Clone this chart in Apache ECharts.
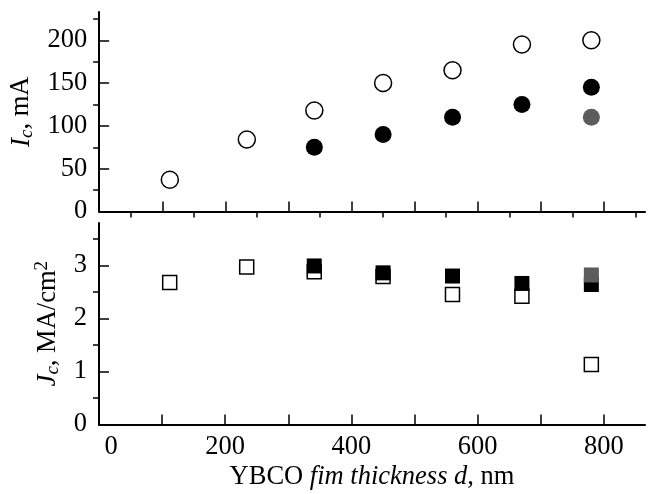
<!DOCTYPE html>
<html>
<head>
<meta charset="utf-8">
<script src="https://cdn.jsdelivr.net/npm/echarts@6/dist/echarts.min.js"></script>
<style>
  html, body { margin: 0; padding: 0; background: #fff; }
  #chart { width: 650px; height: 494px; }
</style>
</head>
<body>
<div id="chart"></div>
<script>
// film thickness, nm
const thickness = [112, 234, 341, 450, 560, 670, 780]

// critical current Ic, mA
const icOpen = [37, 84, 118, 150, 165, 195, 200]
const icFilled = [null, null, 75, 90, 110, 125, 145]
const icGray = [null, null, null, null, null, null, 110]

// critical current density Jc, MA/cm2
const jcOpen = [2.68, 2.97, 2.88, 2.79, 2.45, 2.42, 1.13]
const jcFilled = [null, null, 2.99, 2.86, 2.80, 2.66, 2.64]
const jcGray = [null, null, null, null, null, null, 2.82]

// ticks
const xMajor = [100, 200, 300, 400, 500, 600, 700, 800]
const xMinor = [50, 150, 250, 350, 450, 550, 650, 750, 850]
const xLabels = [0, 200, 400, 600, 800]
const icMajor = [0, 50, 100, 150, 200]
const icMinor = [25, 75, 125, 175, 225]
const jcMajor = [0, 1, 2, 3]
const jcMinor = [0.5, 1.5, 2.5, 3.5]

const font = '"Liberation Serif", "DejaVu Serif", serif'
const gray = '#5c5c5c'
const fs = 26.5

function pairs(ys) {
  const out = []
  ys.forEach((y, i) => {
    if (y !== null) out.push([thickness[i], y])
  })
  return out
}

function xAxisBase(grid, extra) {
  return Object.assign({
    type: 'value',
    gridIndex: grid,
    min: 0,
    max: 865,
    splitLine: { show: false },
    axisLine: { show: true, onZero: false, lineStyle: { color: '#000', width: 2 } }
  }, extra)
}

function yAxisBase(grid, max, extra) {
  return Object.assign({
    type: 'value',
    gridIndex: grid,
    min: 0,
    max: max,
    splitLine: { show: false },
    axisLine: { show: true, onZero: false, lineStyle: { color: '#000', width: 2 } }
  }, extra)
}

const tickMajor = { show: true, inside: true, length: 10, lineStyle: { color: '#000', width: 1.5 } }
const tickMinor = { show: true, inside: true, length: 6, lineStyle: { color: '#000', width: 1.5 } }

const nameRich = {
  it: { fontSize: 27, fontFamily: font, fontStyle: 'italic', color: '#000', lineHeight: 30 },
  sub: { fontSize: 19, fontFamily: font, fontStyle: 'italic', color: '#000', verticalAlign: 'bottom', lineHeight: 18 },
  rm: { fontSize: fs, fontFamily: font, color: '#000', lineHeight: 30 },
  sup: { fontSize: 19, fontFamily: font, color: '#000', verticalAlign: 'top', lineHeight: 18 }
}

let myChart = echarts.init(document.getElementById('chart'))
myChart.setOption({
  backgroundColor: '#fff',
  animation: false,
  textStyle: { fontFamily: font },
  grid: [
    { left: 99, top: 12, right: 5, height: 199.5 },
    { left: 99, top: 223, right: 5, height: 201.5 }
  ],
  xAxis: [
    // top panel, major
    xAxisBase(0, {
      axisTick: Object.assign({ customValues: xMajor }, tickMajor),
      axisLabel: { show: false }
    }),
    // top panel, minor
    xAxisBase(0, {
      axisLine: { show: false },
      axisTick: Object.assign({ customValues: xMinor }, tickMinor),
      axisLabel: { show: false }
    }),
    // bottom panel
    xAxisBase(1, {
      axisTick: Object.assign({ customValues: xMajor }, tickMajor),
      axisLabel: {
        customValues: xLabels,
        color: '#000',
        fontSize: fs,
        fontFamily: font,
        margin: 9,
        formatter: function (v) {
          return v === 0 ? '{z|0}' : String(v)
        },
        rich: {
          z: { fontSize: fs, fontFamily: font, color: '#000', padding: [0, 0, 0, 24] }
        }
      },
      name: 'YBCO {it|fim thickness d}, nm',
      nameLocation: 'middle',
      nameGap: 39,
      nameTextStyle: {
        color: '#000',
        fontSize: fs,
        fontFamily: font,
        rich: {
          it: { fontSize: fs, fontFamily: font, fontStyle: 'italic', color: '#000' }
        }
      }
    })
  ],
  yAxis: [
    // top panel, major
    yAxisBase(0, 233, {
      axisTick: Object.assign({ customValues: icMajor }, tickMajor),
      axisLabel: {
        customValues: icMajor,
        color: '#000',
        fontSize: fs,
        fontFamily: font,
        margin: 12
      },
      name: '{it|I}{sub|c}{rm|, mA}',
      nameLocation: 'middle',
      nameGap: 60,
      nameTextStyle: { color: '#000', fontSize: fs, fontFamily: font, rich: nameRich }
    }),
    // top panel, minor
    yAxisBase(0, 233, {
      axisLine: { show: false },
      axisTick: Object.assign({ customValues: icMinor }, tickMinor),
      axisLabel: { show: false }
    }),
    // bottom panel, major
    yAxisBase(1, 3.8, {
      axisTick: Object.assign({ customValues: jcMajor }, tickMajor),
      axisLabel: {
        customValues: jcMajor,
        color: '#000',
        fontSize: fs,
        fontFamily: font,
        margin: 12
      },
      name: '{it|J}{sub|c}{rm|, MA/cm}{sup|2}',
      nameLocation: 'middle',
      nameGap: 36,
      nameTextStyle: { color: '#000', fontSize: fs, fontFamily: font, rich: nameRich }
    }),
    // bottom panel, minor
    yAxisBase(1, 3.8, {
      axisLine: { show: false },
      axisTick: Object.assign({ customValues: jcMinor }, tickMinor),
      axisLabel: { show: false }
    })
  ],
  series: [
    {
      type: 'scatter', xAxisIndex: 0, yAxisIndex: 0,
      symbol: 'circle', symbolSize: 17,
      itemStyle: { color: '#fff', borderColor: '#000', borderWidth: 1.5, opacity: 1 },
      data: pairs(icOpen)
    },
    {
      type: 'scatter', xAxisIndex: 0, yAxisIndex: 0,
      symbol: 'circle', symbolSize: 17,
      itemStyle: { color: '#000', opacity: 1 },
      data: pairs(icFilled)
    },
    {
      type: 'scatter', xAxisIndex: 0, yAxisIndex: 0,
      symbol: 'circle', symbolSize: 17,
      itemStyle: { color: gray, opacity: 1 },
      data: pairs(icGray)
    },
    {
      type: 'scatter', xAxisIndex: 2, yAxisIndex: 2,
      symbol: 'rect', symbolSize: 14,
      itemStyle: { color: '#fff', borderColor: '#000', borderWidth: 1.5, opacity: 1 },
      data: pairs(jcOpen)
    },
    {
      type: 'scatter', xAxisIndex: 2, yAxisIndex: 2,
      symbol: 'rect', symbolSize: 15,
      itemStyle: { color: '#000', opacity: 1 },
      data: pairs(jcFilled)
    },
    {
      type: 'scatter', xAxisIndex: 2, yAxisIndex: 2,
      symbol: 'rect', symbolSize: 15,
      itemStyle: { color: gray, opacity: 1 },
      data: pairs(jcGray)
    }
  ]
})
</script>
</body>
</html>
